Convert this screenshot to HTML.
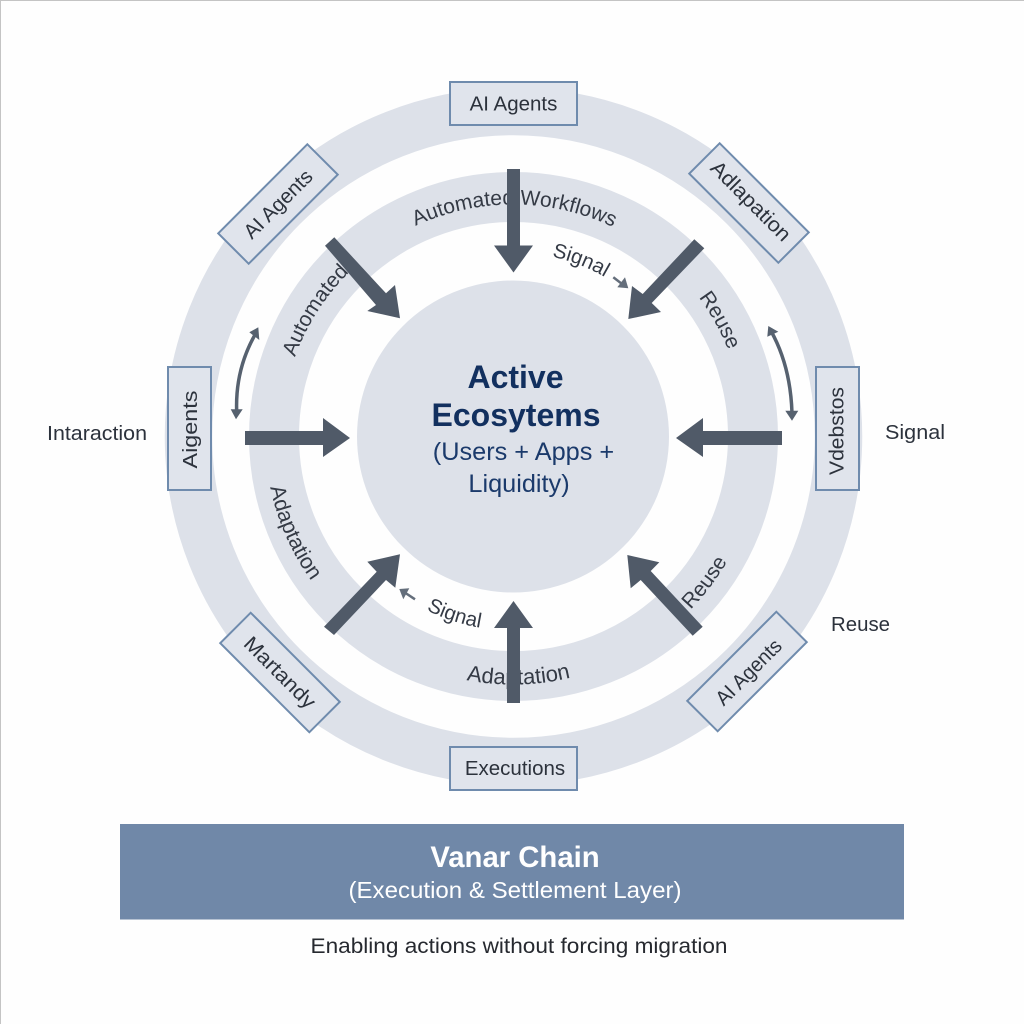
<!DOCTYPE html>
<html lang="en">
<head>
<meta charset="utf-8">
<title>Active Ecosystems diagram</title>
<style>
html,body{margin:0;padding:0;background:#fefefe;}
svg{display:block;}
text{font-family:"Liberation Sans",sans-serif;}
</style>
</head>
<body>
<svg xmlns="http://www.w3.org/2000/svg" width="1024" height="1024" viewBox="0 0 1024 1024">
<defs>
<path id="cw232" d="M513,668.5 A232,232 0 1 1 513,204.5 A232,232 0 1 1 513,668.5"/>
<path id="cw184" d="M513,620.5 A184,184 0 1 1 513,252.5 A184,184 0 1 1 513,620.5"/>
<path id="ccw248" d="M513,188.5 A248,248 0 1 0 513,684.5 A248,248 0 1 0 513,188.5"/>
<path id="ccw194" d="M513,242.5 A194,194 0 1 0 513,630.5 A194,194 0 1 0 513,242.5"/>
</defs>
<rect width="1024" height="1024" fill="#fefefe"/>
<rect x="0" y="0" width="1024" height="1" fill="#c4c4c4"/>
<rect x="0" y="0" width="1" height="1024" fill="#c4c4c4"/>

<!-- rings -->
<circle cx="513.5" cy="436.5" r="325" fill="none" stroke="#dde1e9" stroke-width="47.5"/>
<circle cx="513.5" cy="436.5" r="239.5" fill="none" stroke="#dde1e9" stroke-width="50"/>
<circle cx="513" cy="436.5" r="156" fill="#dde1e9"/>

<!-- ring labels -->
<g fill="#343a45">
<text font-size="21"><textPath href="#cw232" startOffset="730" text-anchor="middle">Automated Workflows</textPath></text>
<text font-size="21"><textPath href="#cw232" startOffset="496" text-anchor="middle">Automated</textPath></text>
<text font-size="21"><textPath href="#cw232" startOffset="974" text-anchor="middle">Reuse</textPath></text>
<text font-size="20.5"><textPath href="#cw184" startOffset="645.5" text-anchor="middle">Signal</textPath></text>
<text font-size="22"><textPath href="#ccw248" startOffset="784.5" text-anchor="middle">Adaptation</textPath></text>
<text font-size="21.5"><textPath href="#ccw248" startOffset="492" text-anchor="middle">Adaptation</textPath></text>
<text font-size="21"><textPath href="#ccw248" startOffset="1007" text-anchor="middle">Reuse</textPath></text>
<text font-size="20.5"><textPath href="#ccw194" startOffset="547.8" text-anchor="middle">Signal</textPath></text>
</g>

<!-- boxes -->
<g fill="#e0e4ec" stroke="#6f8bad" stroke-width="2">
<rect x="450" y="82" width="127" height="43"/>
<rect x="450" y="747" width="127" height="43"/>
<rect x="168" y="367" width="43" height="123"/>
<rect x="816" y="367" width="43" height="123"/>
<rect x="-63" y="-21.5" width="126" height="43" transform="translate(278 204) rotate(-45)"/>
<rect x="-63" y="-21.5" width="126" height="43" transform="translate(749 203) rotate(45)"/>
<rect x="-63" y="-21.5" width="126" height="43" transform="translate(280 672.5) rotate(45)"/>
<rect x="-63" y="-21.5" width="126" height="43" transform="translate(747 671.5) rotate(-45)"/>
</g>

<!-- box labels -->
<g fill="#2c323c" font-size="20.5" text-anchor="middle">
<text x="513.5" y="110.5">AI Agents</text>
<text x="515" y="775">Executions</text>
<text transform="translate(197 429.5) rotate(-90)" textLength="78" lengthAdjust="spacingAndGlyphs">Aigents</text>
<text transform="translate(843.5 431) rotate(-90)" textLength="88" lengthAdjust="spacingAndGlyphs">Vdebstos</text>
<text transform="translate(278 204) rotate(-45) translate(0 7)" textLength="88" lengthAdjust="spacingAndGlyphs">AI Agents</text>
<text transform="translate(748.5 672) rotate(-45) translate(0 7)" textLength="84" lengthAdjust="spacingAndGlyphs">AI Agents</text>
<text transform="translate(751 201) rotate(45) translate(0 7)" textLength="104" lengthAdjust="spacingAndGlyphs">Adlapation</text>
<text transform="translate(280 672.5) rotate(45) translate(0 7)" textLength="92" lengthAdjust="spacingAndGlyphs">Martandy</text>
</g>

<!-- big arrows -->
<g fill="#505a68">
<polygon points="507,169 520,169 520,245.5 533,245.5 513.5,272.5 494,245.5 507,245.5"/>
<polygon points="507,703 520,703 520,628 533,628 513.5,601 494,628 507,628"/>
<polygon points="245,431 323,431 323,418 350,438 323,457 323,445 245,445"/>
<polygon points="782,431 703,431 703,418 676,438 703,457 703,445 782,445"/>
<polygon points="325,245.7 334.3,237.3 386,293.3 395,285 400,318.3 367.3,311 376,305"/>
<polygon points="694.3,239.3 704.3,248.3 651.7,303 661,312 628.3,319 632,286 642.7,294"/>
<polygon points="324,626.7 334,635 386,580 395.3,587.7 400,554.3 367.3,561.7 376.7,571.7"/>
<polygon points="692.7,635.7 702.7,626.7 650.7,571 659.3,562.3 627.3,555 630.7,588.3 640.7,580"/>
</g>

<!-- double arrows -->
<g fill="none" stroke="#56616f" stroke-width="3.5">
<path d="M256,333 Q235,369 236.7,412"/>
<path d="M771,331 Q790.5,366 792,413"/>
</g>
<g fill="#56616f">
<polygon points="258.3,327.3 249.3,332.3 259.3,340"/>
<polygon points="236,419.3 230.7,409.3 242.7,409.3"/>
<polygon points="768.3,326 767.3,336.7 778.3,331.7"/>
<polygon points="792,420.7 785.3,410.7 798.3,410.7"/>
</g>

<!-- small arrows -->
<g stroke="#646e7b" stroke-width="2.5" fill="none">
<line x1="613.3" y1="277.3" x2="624" y2="285.5"/>
<line x1="415" y1="599.3" x2="404" y2="592"/>
</g>
<g fill="#646e7b">
<polygon points="628.3,288.3 625,277.3 617.3,287.3"/>
<polygon points="399.3,589 409.3,588.3 403.3,599.3"/>
</g>

<!-- center text -->
<g text-anchor="middle">
<text x="515.5" y="388" font-size="32" font-weight="700" fill="#12305f">Active</text>
<text x="516" y="426" font-size="32" font-weight="700" fill="#12305f">Ecosytems</text>
<text x="523.5" y="460" font-size="25.3" fill="#1b3a6b">(Users + Apps +</text>
<text x="519" y="492" font-size="25.3" fill="#1b3a6b">Liquidity)</text>
</g>

<!-- outer labels -->
<g fill="#2c323c" font-size="20">
<text x="47" y="440" textLength="100" lengthAdjust="spacingAndGlyphs">Intaraction</text>
<text x="885" y="439" textLength="60" lengthAdjust="spacingAndGlyphs">Signal</text>
<text x="831" y="631" textLength="59" lengthAdjust="spacingAndGlyphs">Reuse</text>
</g>

<!-- base bar -->
<rect x="120" y="824" width="784" height="95.5" fill="#7088a8"/>
<g text-anchor="middle" fill="#ffffff">
<text x="515" y="867" font-size="29.3" font-weight="700">Vanar Chain</text>
<text x="515" y="898" font-size="23" textLength="333" lengthAdjust="spacingAndGlyphs">(Execution &amp; Settlement Layer)</text>
</g>
<text x="519" y="953" font-size="21" fill="#26292f" text-anchor="middle" textLength="417" lengthAdjust="spacingAndGlyphs">Enabling actions without forcing migration</text>
</svg>
</body>
</html>
